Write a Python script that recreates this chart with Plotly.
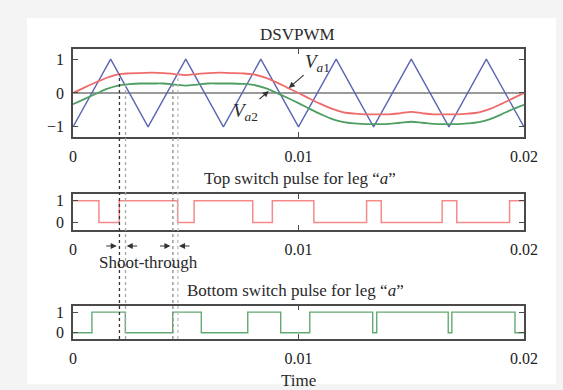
import plotly.graph_objects as go

# ---------------- data ----------------
carrier_t = [0, 0.00167, 0.00333, 0.005, 0.00667, 0.00833, 0.01, 0.01167,
             0.01333, 0.015, 0.01667, 0.01833, 0.02]
carrier_v = [-1, 1, -1, 1, -1, 1, -1, 1, -1, 1, -1, 1, -1]

ref_t = [0, 0.0005, 0.001, 0.0015, 0.002, 0.0025, 0.003, 0.0035, 0.004, 0.0045,
         0.005, 0.0055, 0.006, 0.0065, 0.007, 0.0075, 0.008, 0.0085, 0.009, 0.0095,
         0.01, 0.0105, 0.011, 0.0115, 0.012, 0.0125, 0.013, 0.0135, 0.014, 0.0145,
         0.015, 0.0155, 0.016, 0.0165, 0.017, 0.0175, 0.018, 0.0185, 0.019, 0.0195, 0.02]
va1 = [0, 0.16, 0.31, 0.45, 0.55, 0.58, 0.59, 0.60, 0.59, 0.56,
       0.53, 0.56, 0.59, 0.60, 0.59, 0.58, 0.55, 0.46, 0.32, 0.16,
       0, -0.17, -0.33, -0.47, -0.57, -0.61, -0.63, -0.63, -0.63, -0.60,
       -0.56, -0.60, -0.63, -0.63, -0.63, -0.61, -0.57, -0.47, -0.32, -0.16, 0]
va2 = [-0.33, -0.18, -0.03, 0.12, 0.22, 0.26, 0.28, 0.28, 0.28, 0.25,
       0.22, 0.25, 0.28, 0.28, 0.28, 0.27, 0.24, 0.15, 0.01, -0.14,
       -0.30, -0.47, -0.63, -0.77, -0.86, -0.90, -0.92, -0.92, -0.91, -0.88,
       -0.85, -0.88, -0.91, -0.92, -0.92, -0.90, -0.86, -0.77, -0.63, -0.48, -0.35]

top_t = [0, 0.00115, 0.00205, 0.00464, 0.00537, 0.00797, 0.00884, 0.01068,
         0.01302, 0.01367, 0.01637, 0.01702, 0.01936, 0.02]
top_v = [1, 0, 1, 0, 1, 0, 1, 0, 1, 0, 1, 0, 1, 1]

bot_t = [0, 0.00084, 0.00232, 0.00442, 0.00569, 0.00775, 0.00921, 0.01050,
         0.01329, 0.01347, 0.01664, 0.01680, 0.01960, 0.02]
bot_v = [0, 1, 0, 1, 0, 1, 0, 1, 0, 1, 0, 1, 0, 0]

# shoot-through marker lines: times and the reference level where each starts
dot_t = [0.00206, 0.00233, 0.00443, 0.00465]
dot_v = [0.56, 0.25, 0.25, 0.56]
dot_c = ['#333333', '#a8a8a8', '#8a8a8a', '#bdbdbd']

x_ticks = [0, 0.01, 0.02]
x_ticktext = ['0', '0.01', '0.02']

# ---------------- layout constants ----------------
W, H = 563, 390
ML, MR, MT, MB = 73, 39, 49, 51
PH = H - MT - MB
D1 = [0.6966, 1.0]
D2 = [0.3759, 0.499]
D3 = [0.0, 0.1155]
Y1R = [-1.3, 1.3]

FONT = 'Liberation Serif, Times New Roman, serif'
RED = '#ef6a6a'
GREEN = '#4f9f62'
BLUE = '#5a66b4'

def py2paper(py):
    return (H - MB - py) / PH

def px2paper(px):
    return (px - ML) / (W - ML - MR)

fig = go.Figure()
fig.add_trace(go.Scatter(x=carrier_t, y=carrier_v, mode='lines',
                         line=dict(color=BLUE, width=1.4), xaxis='x', yaxis='y'))
fig.add_trace(go.Scatter(x=ref_t, y=va1, mode='lines', line_shape='spline',
                         line=dict(color=RED, width=1.8), xaxis='x', yaxis='y'))
fig.add_trace(go.Scatter(x=ref_t, y=va2, mode='lines', line_shape='spline',
                         line=dict(color=GREEN, width=1.8), xaxis='x', yaxis='y'))
fig.add_trace(go.Scatter(x=top_t, y=top_v, mode='lines', line_shape='hv',
                         line=dict(color='#f58a8a', width=1.5), xaxis='x2', yaxis='y2'))
fig.add_trace(go.Scatter(x=bot_t, y=bot_v, mode='lines', line_shape='hv',
                         line=dict(color='#62aa72', width=1.4), xaxis='x3', yaxis='y3'))

axis_common = dict(showline=True, mirror='ticks', linecolor='#4a4a4a', linewidth=1.6,
                   ticks='inside', ticklen=5, tickcolor='#4a4a4a', tickwidth=1.2,
                   showgrid=False, zeroline=False,
                   tickfont=dict(family=FONT, size=16, color='#222222'))

xa = dict(axis_common, range=[0, 0.02], tickvals=x_ticks, ticktext=x_ticktext,
          ticklabelstandoff=4)
fig.update_layout(
    xaxis=dict(xa, anchor='y', domain=[0, 1]),
    xaxis2=dict(xa, anchor='y2', domain=[0, 1]),
    xaxis3=dict(xa, anchor='y3', domain=[0, 1]),
    yaxis=dict(axis_common, anchor='x', domain=D1, range=Y1R, tickvals=[-1, 0, 1],
               zeroline=True, zerolinecolor='#9a9a9a', zerolinewidth=1.6,
               ticklabelstandoff=4),
    yaxis2=dict(axis_common, anchor='x2', domain=D2, range=[-0.35, 1.3], tickvals=[0, 1],
                ticklabelstandoff=4),
    yaxis3=dict(axis_common, anchor='x3', domain=D3, range=[-0.3, 1.32], tickvals=[0, 1],
                ticklabelstandoff=4),
)

shapes = [dict(type='rect', xref='paper', yref='paper', layer='below',
               x0=px2paper(27), x1=px2paper(556), y0=py2paper(384), y1=py2paper(18),
               fillcolor='white', line=dict(width=0))]
for t, v, c in zip(dot_t, dot_v, dot_c):
    ytop = D1[0] + (v - Y1R[0]) / (Y1R[1] - Y1R[0]) * (D1[1] - D1[0])
    shapes.append(dict(type='line', xref='x', yref='paper', x0=t, x1=t, y0=0, y1=ytop,
                       line=dict(color=c, width=1.3, dash='dot')))

txt = dict(family=FONT, size=17, color='#2a2a2a')
ann = [
    dict(text='DSVPWM', x=px2paper(297), y=py2paper(34)),
    dict(text='Top switch pulse for leg \u201c<i>a</i>\u201d', x=px2paper(300), y=py2paper(178)),
    dict(text='Bottom switch pulse for leg \u201c<i>a</i>\u201d', x=px2paper(295), y=py2paper(290)),
    dict(text='Shoot-through', x=px2paper(148), y=py2paper(262)),
    dict(text='Time', x=px2paper(298), y=py2paper(380)),
]
annotations = [dict(a, xref='paper', yref='paper', showarrow=False, font=txt,
                    xanchor='center', yanchor='middle') for a in ann]

# V labels with arrows
annotations.append(dict(text='<i>V</i><sub><i>a</i>1</sub>', xref='x', yref='y',
                        x=0.00957, y=0.15, axref='x', ayref='y', ax=0.01085, ay=0.88,
                        showarrow=True, arrowhead=2, arrowsize=1.1, arrowwidth=1.1,
                        arrowcolor='#333333', font=dict(family=FONT, size=19, color='#2a2a2a')))
annotations.append(dict(text='<i>V</i><sub><i>a</i>2</sub>', xref='x', yref='y',
                        x=0.00868, y=0.06, axref='x', ayref='y', ax=0.00765, ay=-0.55,
                        showarrow=True, arrowhead=2, arrowsize=1.1, arrowwidth=1.1,
                        arrowcolor='#333333', font=dict(family=FONT, size=19, color='#2a2a2a')))

# shoot-through arrows
for tip, dx in [(0.00194, -12), (0.00238, 12), (0.00432, -12), (0.0047, 12)]:
    annotations.append(dict(text='', xref='x2', yref='paper', x=tip, y=py2paper(246),
                            ax=dx, ay=0, showarrow=True, arrowhead=2, arrowsize=1.1,
                            arrowwidth=1.1, arrowcolor='#333333'))

fig.update_layout(width=W, height=H, margin=dict(l=ML, r=MR, t=MT, b=MB),
                  paper_bgcolor='#f4f4f4', plot_bgcolor='white', showlegend=False,
                  shapes=shapes, annotations=annotations)

fig.write_html('out.html', config={'displayModeBar': False},
               post_script="document.body.style.margin='0';document.body.style.overflow='hidden';")
